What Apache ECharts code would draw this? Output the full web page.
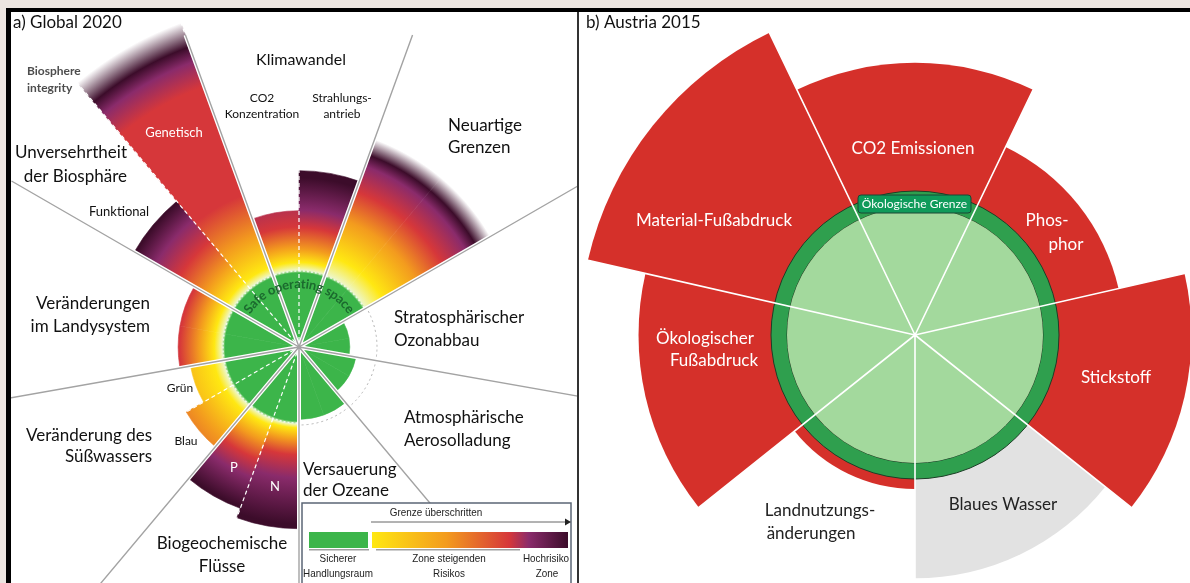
<!DOCTYPE html>
<html>
<head>
<meta charset="utf-8">
<script src="https://cdn.jsdelivr.net/npm/echarts@6/dist/echarts.min.js"></script>
<style>
  html, body { margin: 0; padding: 0; background: #fff; }
  #chart { width: 1190px; height: 583px; }
</style>
</head>
<body>
<div id="chart"></div>
<script>
// a) Global 2020 - 18 half sectors of 20 deg, clockwise starting at -20 deg (north = 0)
// values in multiples of the planetary boundary (boundary = 1)
const globalCats = ['CO2-Konzentration', 'Strahlungsantrieb', 'Neuartige Grenzen 1', 'Neuartige Grenzen 2',
  'Ozonabbau 1', 'Ozonabbau 2', 'Aerosolladung 1', 'Aerosolladung 2', 'Versauerung 1', 'Versauerung 2',
  'N', 'P', 'Blau', 'Grün', 'Landsystem 1', 'Landsystem 2', 'Funktional', 'Genetisch'];
const globalValues = [1.77, 2.29, 2.87, 2.87, 0.66, 0.66, 0.75, 0.75, 0.94, 0.94, 2.36, 2.23, 1.69, 1.43, 1.57, 1.57, 2.47, 4.48];

// b) Austria 2015 - 7 sectors clockwise, CO2 centred at north (boundary = 1)
const austriaCats = ['CO2 Emissionen', 'Phosphor', 'Stickstoff', 'Blaues Wasser', 'Landnutzungsänderungen', 'Ökologischer Fußabdruck', 'Material-Fußabdruck'];
const austriaValues = [1.89, 1.45, 1.92, 1.69, 1.07, 1.92, 2.33];
const austriaAssessed = [true, true, true, false, true, true, true];

const legendLabels = [['Sicherer', 'Handlungsraum'], ['Zone steigenden', 'Risikos'], ['Hochrisiko', 'Zone']];

// ---- layout / style
const A_CX = 299, A_CY = 347, A_UNIT = 77, A_MAX = 4.5;
const B_CX = 915, B_CY = 335, B_UNIT = 144, B_MAX = 2.36;
const C = {
  green: '#3cb54a', halo: '#eef6c4', yellow: '#ffe812', orange: '#f39b1e',
  red: '#d6373a', purple: '#8a2b6b', dark: '#3c0c2a', white: '#ffffff'
};
const RED_B = '#d5302a', GREY_B = '#e2e2e2';

// colour ramp per half sector: radius (boundary units) where yellow, orange, red, purple, dark purple are reached
const ramps = [
  [1.1, 1.3, 1.56, 2.1, 2.4],
  [1.1, 1.27, 1.55, 1.78, 2.2],
  [1.25, 1.75, 2.15, 2.5, 2.65], [1.25, 1.75, 2.15, 2.5, 2.65],
  null, null, null, null, null, null,
  [1.05, 1.2, 1.4, 1.7, 2.3],
  [1.08, 1.3, 1.55, 1.8, 2.2],
  [1.1, 1.55, 2.2, 2.6, 3.0],
  [1.12, 1.75, 2.3, 2.7, 3.1],
  [1.1, 1.3, 1.55, 1.9, 2.2], [1.1, 1.3, 1.55, 1.9, 2.2],
  [1.1, 1.4, 1.8, 2.15, 2.45],
  [1.1, 1.55, 2.1, 3.95, 4.15]
];
const fadeEnd = {2: 2.87, 3: 2.87, 17: 4.48};
const redHold = {17: 3.6};

function sectorFill(i) {
  const r = ramps[i];
  if (!r) return C.green;
  const s = [[0, C.green], [0.96, C.green], [1.0, C.halo], [r[0], C.yellow], [r[1], C.orange], [r[2], C.red]];
  if (redHold[i]) s.push([redHold[i], C.red]);
  s.push([r[3], C.purple], [r[4], C.dark]);
  if (fadeEnd[i]) s.push([fadeEnd[i], C.white]);
  return new echarts.graphic.RadialGradient(A_CX, A_CY, A_MAX * A_UNIT,
    s.map(p => ({offset: Math.min(p[0] / A_MAX, 1), color: p[1]})), true);
}

const chart = echarts.init(document.getElementById('chart'));

function spokeAxis(polarIndex, showAt, lineStyle, z) {
  return {
    polarIndex: polarIndex, type: 'category', data: globalCats, startAngle: 110, z: z,
    axisLine: {show: false}, axisLabel: {show: false},
    axisTick: {show: false, interval: showAt},
    splitLine: {show: true, interval: showAt, lineStyle: lineStyle}
  };
}
const mainSpoke = i => i % 2 === 0;
const subSpoke = i => [1, 11, 13, 17].indexOf(i) >= 0;

// graphic helpers
const FONT = 'Lato, "Open Sans", sans-serif';
const NARROW = '"Liberation Sans", Arial, sans-serif';
function txt(text, x, y, size, opt) {
  opt = opt || {};
  return {
    type: 'text', x: x, y: y, z: 30, silent: true, scaleX: opt.scaleX || 1,
    style: {
      text: text, font: (opt.weight || 'normal') + ' ' + size + 'px ' + (opt.family || FONT),
      fill: opt.color || '#111', textAlign: opt.align || 'center', align: opt.align || 'center',
      textVerticalAlign: 'middle', verticalAlign: 'middle'
    }
  };
}
const small = {family: NARROW, color: '#222', scaleX: 0.86};

// curved "Safe operating space"
function arcText(text, r, size) {
  const ctx = document.createElement('canvas').getContext('2d');
  ctx.font = 'bold ' + size + 'px ' + FONT;
  const widths = text.split('').map(ch => ctx.measureText(ch).width * 1.03);
  const total = widths.reduce((a, b) => a + b, 0);
  let s = -total / 2;
  return text.split('').map((ch, k) => {
    const mid = s + widths[k] / 2;
    s += widths[k];
    const th = mid / r;
    return {
      type: 'text', z: 6, silent: true,
      x: A_CX + r * Math.sin(th), y: A_CY - r * Math.cos(th), rotation: -th,
      style: {text: ch, font: 'bold ' + size + 'px ' + FONT, fill: '#1b6a2e',
        textAlign: 'center', align: 'center', textVerticalAlign: 'middle', verticalAlign: 'middle'}
    };
  });
}

const graphics = [
  // panel b background covers the long spokes of panel a
  {type: 'rect', z: 7, silent: true, shape: {x: 579, y: 0, width: 611, height: 583}, style: {fill: '#fff'}},
  // frame
  {type: 'rect', z: 40, silent: true, shape: {x: 0, y: 0, width: 1190, height: 8}, style: {fill: '#ece5e0'}},
  {type: 'rect', z: 40, silent: true, shape: {x: 0, y: 0, width: 6, height: 583}, style: {fill: '#ece5e0'}},
  {type: 'rect', z: 41, silent: true, shape: {x: 6, y: 8, width: 1184, height: 4}, style: {fill: '#000'}},
  {type: 'rect', z: 41, silent: true, shape: {x: 6, y: 8, width: 5, height: 575}, style: {fill: '#000'}},
  {type: 'rect', z: 41, silent: true, shape: {x: 577, y: 12, width: 2, height: 571}, style: {fill: '#333'}},

  // legend box
  {type: 'rect', z: 7, silent: true, shape: {x: 302, y: 503, width: 269, height: 84},
    style: {fill: '#fff', stroke: '#5b6675', lineWidth: 1.5}},
  txt('Grenze überschritten', 436, 513, 11.5, small),
  {type: 'line', z: 8, silent: true, shape: {x1: 371, y1: 522, x2: 566, y2: 522}, style: {stroke: '#666', lineWidth: 1}},
  {type: 'polygon', z: 8, silent: true, shape: {points: [[565, 518.5], [571, 522], [565, 525.5]]}, style: {fill: '#222'}},
  {type: 'rect', z: 8, silent: true, shape: {x: 309, y: 532, width: 59, height: 16}, style: {fill: C.green}},
  {type: 'rect', z: 8, silent: true, shape: {x: 372, y: 532, width: 196, height: 16},
    style: {fill: new echarts.graphic.LinearGradient(0, 0, 1, 0, [
      {offset: 0, color: C.yellow}, {offset: 0.38, color: C.orange}, {offset: 0.7, color: C.red},
      {offset: 0.8, color: C.purple}, {offset: 1, color: C.dark}])}},
  {type: 'rect', z: 8, silent: true, shape: {x: 309, y: 549, width: 60, height: 1.5}, style: {fill: '#a0a0a0'}},
  {type: 'rect', z: 8, silent: true, shape: {x: 376, y: 549, width: 144, height: 1.5}, style: {fill: '#a0a0a0'}},
  txt(legendLabels[0][0], 338, 559, 11.5, small),
  txt(legendLabels[0][1], 338, 574, 11.5, small),
  txt(legendLabels[1][0], 449, 559, 11.5, small),
  txt(legendLabels[1][1], 449, 574, 11.5, small),
  txt(legendLabels[2][0], 546, 559, 11.5, small),
  txt(legendLabels[2][1], 547, 574, 11.5, small),

  // panel a labels
  txt('a) Global 2020', 13, 23, 17, {align: 'left'}),
  txt('Biosphere', 27, 71, 12, {align: 'left', weight: 'bold', color: '#4d4d4d'}),
  txt('integrity', 27, 88, 12, {align: 'left', weight: 'bold', color: '#4d4d4d'}),
  txt('Klimawandel', 301, 60, 16),
  txt('CO2', 262, 98, 12),
  txt('Konzentration', 262, 114, 12),
  txt('Strahlungs-', 342, 98, 12),
  txt('antrieb', 342, 114, 12),
  txt('Genetisch', 174, 133, 13, {color: '#fff'}),
  txt('Neuartige', 448, 126, 17, {align: 'left'}),
  txt('Grenzen', 448, 148, 17, {align: 'left'}),
  txt('Unversehrtheit', 127, 153, 17, {align: 'right'}),
  txt('der Biosphäre', 127, 177, 17, {align: 'right'}),
  txt('Funktional', 119, 212, 13),
  txt('Veränderungen', 150, 304, 17, {align: 'right'}),
  txt('im Landysystem', 150, 327, 17, {align: 'right'}),
  txt('Stratosphärischer', 394, 318, 17, {align: 'left'}),
  txt('Ozonabbau', 394, 341, 17, {align: 'left'}),
  txt('Grün', 180, 388, 12),
  txt('Blau', 186, 441, 12),
  txt('Veränderung des', 152, 436, 17, {align: 'right'}),
  txt('Süßwassers', 152, 457, 17, {align: 'right'}),
  txt('Atmosphärische', 404, 418, 17, {align: 'left'}),
  txt('Aerosolladung', 404, 441, 17, {align: 'left'}),
  txt('P', 234, 468, 13, {color: '#fff'}),
  txt('N', 275, 487, 13, {color: '#fff'}),
  txt('Versauerung', 303, 470, 17, {align: 'left'}),
  txt('der Ozeane', 303, 491, 17, {align: 'left'}),
  txt('Biogeochemische', 222, 544, 17),
  txt('Flüsse', 222, 567, 17),

  // panel b labels
  txt('b) Austria 2015', 586, 23, 17, {align: 'left'}),
  txt('CO2 Emissionen', 913, 149, 17, {color: '#fff'}),
  txt('Material-Fußabdruck', 714, 221, 17, {color: '#fff'}),
  txt('Phos-', 1047, 221, 17, {color: '#fff'}),
  txt('phor', 1066, 245, 17, {color: '#fff'}),
  txt('Ökologischer', 705, 339, 17, {color: '#fff'}),
  txt('Fußabdruck', 714, 361, 17, {color: '#fff'}),
  txt('Stickstoff', 1116, 378, 17, {color: '#fff'}),
  txt('Blaues Wasser', 1003, 505, 17, {color: '#222'}),
  txt('Landnutzungs-', 820, 511, 17, {color: '#222'}),
  txt('änderungen', 811, 534, 17, {color: '#222'}),
  {type: 'rect', z: 29, silent: true, shape: {x: 858, y: 195, width: 113, height: 18, r: 3},
    style: {fill: '#0f9b5a', stroke: '#1b4634', lineWidth: 1}},
  txt('Ökologische Grenze', 914.5, 204.5, 12, {color: '#fff'})
].concat(arcText('Safe operating space', 63, 13));

const option = {
  animation: false,
  polar: [
    {center: [A_CX, A_CY], radius: A_MAX * A_UNIT},
    {center: [A_CX, A_CY], radius: 332},
    {center: [A_CX, A_CY], radius: 332},
    {center: [A_CX, A_CY], radius: 346},
    {center: [B_CX, B_CY], radius: B_MAX * B_UNIT}
  ],
  angleAxis: [
    {polarIndex: 0, type: 'category', data: globalCats, startAngle: 110, show: false},
    spokeAxis(1, mainSpoke, {color: '#ffffff', width: 4}, 4),
    spokeAxis(2, mainSpoke, {color: '#a3a3a3', width: 1.4}, 5),
    spokeAxis(3, subSpoke, {color: '#ffffff', width: 1.2, type: [4, 3]}, 3),
    {polarIndex: 4, type: 'category', data: austriaCats, startAngle: 90 + 360 / 14, z: 10,
      axisLine: {show: false}, axisLabel: {show: false}, axisTick: {show: false, interval: 0},
      splitLine: {show: true, interval: 0, lineStyle: {color: '#ffffff', width: 1.6}}}
  ],
  radiusAxis: [
    {polarIndex: 0, type: 'value', min: 0, max: A_MAX, show: false},
    {polarIndex: 1, type: 'value', min: 0, max: 1, show: false},
    {polarIndex: 2, type: 'value', min: 0, max: 1, show: false},
    {polarIndex: 3, type: 'value', min: 0, max: 1, show: false},
    {polarIndex: 4, type: 'value', min: 0, max: B_MAX, show: false}
  ],
  series: [
    {
      type: 'pie', center: [A_CX, A_CY], radius: [0, 78], z: 1, silent: true,
      label: {show: false}, labelLine: {show: false},
      data: [{value: 1, itemStyle: {color: 'rgba(0,0,0,0)', borderColor: '#b3b3b3', borderWidth: 1, borderType: [2, 3]}}]
    },
    {
      type: 'bar', coordinateSystem: 'polar', polarIndex: 0, barCategoryGap: '0%', z: 2, silent: true,
      data: globalValues.map((v, i) => {
        const f = sectorFill(i);
        return {value: v, itemStyle: {color: f, borderColor: f, borderWidth: 0.6}};
      })
    },
    {
      type: 'pie', center: [A_CX, A_CY], radius: [0, 76], z: 3, silent: true,
      label: {show: false}, labelLine: {show: false},
      data: [{value: 1, itemStyle: {color: 'rgba(0,0,0,0)', borderColor: 'rgba(255,255,255,0.75)', borderWidth: 1.5, borderType: [2, 2]}}]
    },
    {
      type: 'bar', coordinateSystem: 'polar', polarIndex: 4, barCategoryGap: '0%', z: 8, silent: true,
      data: austriaValues.map((v, i) => ({value: v, itemStyle: {color: austriaAssessed[i] ? RED_B : GREY_B}}))
    },
    {
      type: 'pie', center: [B_CX, B_CY], radius: [128, 144], z: 9, silent: true,
      label: {show: false}, labelLine: {show: false},
      data: [{value: 1, itemStyle: {color: '#2f9f4e', borderColor: '#1c3f26', borderWidth: 1}}]
    },
    {
      type: 'pie', center: [B_CX, B_CY], radius: [0, 128], z: 9, silent: true,
      label: {show: false}, labelLine: {show: false},
      data: [{value: 1, itemStyle: {color: '#a3d99d'}}]
    }
  ],
  graphic: {elements: graphics}
};
chart.setOption(option);
</script>
</body>
</html>
